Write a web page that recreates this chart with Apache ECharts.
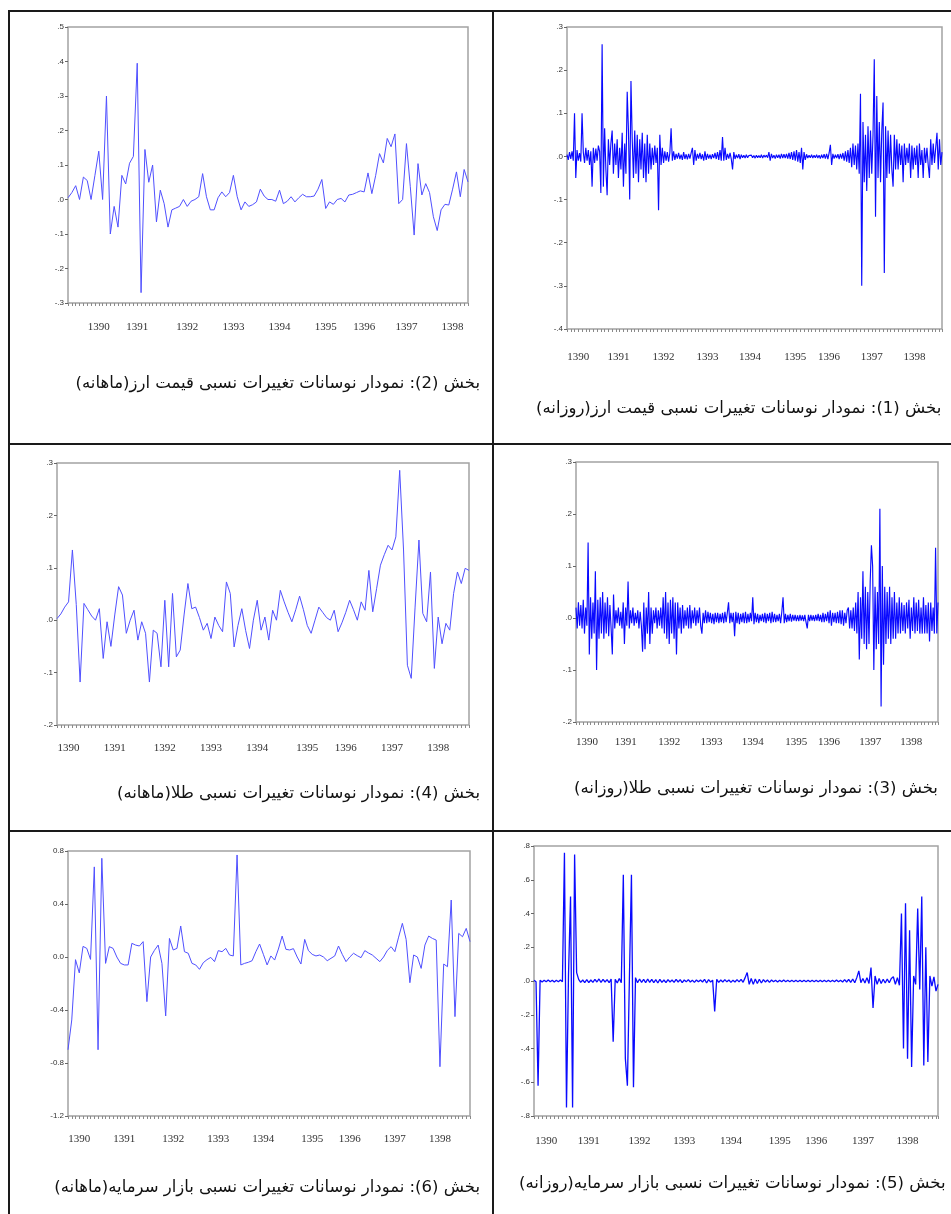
<!DOCTYPE html>
<html>
<head>
<meta charset="utf-8">
<script src="https://cdn.jsdelivr.net/npm/echarts@6/dist/echarts.min.js"></script>
<style>
html,body{margin:0;padding:0;background:#fff;overflow:hidden;width:951px;height:1214px;}
#wrap{position:absolute;left:0;top:0;width:975px;height:1214px;}
#chart{position:absolute;left:0;top:0;width:975px;height:1214px;}
.ln{position:absolute;background:#1a1a1a;z-index:5;}
.cap{position:absolute;white-space:nowrap;direction:rtl;font-family:"DejaVu Sans","Noto Sans",sans-serif;font-size:16.5px;color:#111;z-index:6;line-height:22px;}
</style>
</head>
<body>
<div id="wrap">
  <div id="chart"></div>
  <div class="ln" style="left:8px;top:10px;width:967px;height:2px;"></div>
  <div class="ln" style="left:8px;top:10px;width:2px;height:1204px;"></div>
  <div class="ln" style="left:492px;top:10px;width:2px;height:1204px;"></div>
  <div class="ln" style="left:8px;top:443px;width:967px;height:2px;"></div>
  <div class="ln" style="left:8px;top:830px;width:967px;height:2px;"></div>
  <div class="cap" id="cap2" style="left:0;width:480px;top:372px;text-align:right;"></div>
  <div class="cap" id="cap1" style="left:536px;top:397px;text-align:left;"></div>
  <div class="cap" id="cap4" style="left:0;width:480px;top:782px;text-align:right;"></div>
  <div class="cap" id="cap3" style="left:574px;top:777px;text-align:left;"></div>
  <div class="cap" id="cap6" style="left:0;width:480px;top:1176px;text-align:right;"></div>
  <div class="cap" id="cap5" style="left:519px;top:1172px;text-align:left;"></div>
</div>
<script>
// ---------- tick labels ----------
const years = ['1390','1391','1392','1393','1394','1395','1396','1397','1398'];
const yearIdxFxMonthly = [8,18,31,43,55,67,77,88,100];
const yearIdxMonthly = [3,15,28,40,52,65,75,87,99];
const yearIdxDaily300 = [9,41,77,112,146,182,209,243,277];
const yearIdxDaily200 = [6,27,52,74,97,121,139,162,184];

// ---------- captions ----------
const cap1 = 'بخش (1): نمودار نوسانات تغییرات نسبی قیمت ارز(روزانه)';
const cap2 = 'بخش (2): نمودار نوسانات تغییرات نسبی قیمت ارز(ماهانه)';
const cap3 = 'بخش (3): نمودار نوسانات تغییرات نسبی طلا(روزانه)';
const cap4 = 'بخش (4): نمودار نوسانات تغییرات نسبی طلا(ماهانه)';
const cap5 = 'بخش (5): نمودار نوسانات تغییرات نسبی بازار سرمایه(روزانه)';
const cap6 = 'بخش (6): نمودار نوسانات تغییرات نسبی بازار سرمایه(ماهانه)';

// ---------- series values ----------
// (2) exchange rate, monthly
const fxMonthly = [
 .005,.02,.04,0,.065,.055,0,.07,.14,0,
 .30,-.10,-.02,-.08,.07,.045,.105,.125,.395,-.27,
 .145,.05,.10,-.065,.027,-.012,-.08,-.03,-.025,-.02,
 0,-.02,-.005,0,.008,.075,.008,-.03,-.03,.005,
 .022,.008,.02,.07,.008,-.03,-.007,-.02,-.015,-.007,
 .03,.01,0,0,-.005,.027,-.012,-.005,.008,-.007,
 .005,.015,.008,.008,.01,.03,.058,-.026,-.007,-.014,
 0,.003,-.007,.013,.015,.02,.025,.022,.077,.017,
 .07,.133,.106,.177,.153,.19,-.012,0,.162,.037,
 -.103,.104,.013,.046,.02,-.05,-.09,-.03,-.014,-.016,
 .03,.08,.008,.087,.051
];
// (1) exchange rate, daily
const fxDaily = [
 .004,-.008,.01,-.006,.012,-.01,.10,-.05,.015,-.01,
 .008,-.012,.10,.01,-.015,.02,-.01,.015,-.02,.012,
 -.07,.02,-.015,.018,-.01,.025,.012,-.085,.26,-.07,
 .065,-.03,-.09,.04,-.02,.03,.06,-.04,.03,-.02,
 .04,-.05,.02,-.03,.055,-.07,.03,-.04,.15,.06,
 -.10,.175,.04,-.05,.06,-.04,.05,-.06,.04,-.03,
 .055,-.05,.03,-.06,.05,-.04,.03,-.03,.02,-.02,
 .025,-.015,.02,-.125,.05,-.02,.02,-.015,.012,-.01,
 .01,-.012,.008,.065,-.01,.012,-.008,.006,-.005,.008,
 -.006,.004,-.008,.01,-.006,.005,-.007,.006,-.005,.008,
 .02,-.02,.015,-.01,.006,-.005,.008,-.006,.005,-.01,
 .012,-.008,.006,-.005,.004,-.006,.005,-.004,.008,-.006,
 .01,-.008,.015,-.01,.045,-.01,.02,-.008,.006,-.005,
 .008,-.006,-.03,.01,-.006,.004,-.004,.005,-.006,.004,
 -.003,.003,-.004,.004,-.003,.002,-.002,.003,-.003,.002,
 -.004,.003,-.003,.002,-.003,.004,-.004,.003,-.002,.003,
 -.003,.01,-.01,.006,-.004,.003,-.005,.004,-.003,.004,
 -.005,.006,-.004,.005,-.004,.006,-.005,.008,-.006,.01,
 -.008,.012,-.01,.015,-.012,.01,-.015,.02,-.03,.01,
 -.008,.005,-.004,.003,-.003,.004,-.004,.003,-.003,.004,
 -.004,.003,-.005,.004,-.004,.005,-.005,.006,-.006,.008,
 .027,-.02,.006,-.005,.004,-.004,.005,-.006,.006,-.005,
 .008,-.01,.012,-.012,.015,-.015,.02,-.025,.03,-.02,
 .025,-.03,.03,-.04,.145,-.30,.08,-.06,.05,-.08,
 .07,-.05,.06,-.04,.05,.225,-.14,.14,-.05,.08,
 -.06,.06,.125,-.27,.07,-.05,.06,-.04,.05,-.03,
 -.07,.05,-.03,.04,-.03,.03,-.02,.025,-.06,.03,
 -.02,.02,-.015,.03,-.05,.025,-.03,.02,-.02,.025,
 -.05,.03,-.02,.015,-.05,.02,-.015,.02,-.02,-.05,
 .04,-.02,.03,-.015,.02,.055,-.03,.04,-.02,.01
];
// (4) gold, monthly
const goldMonthly = [
 .003,.012,.025,.035,.134,.03,-.118,.032,.02,.008,
 0,.022,-.073,-.003,-.05,.01,.064,.048,-.025,0,
 .019,-.038,-.003,-.025,-.118,-.019,-.025,-.089,.038,-.089,
 .051,-.07,-.057,.01,.07,.022,.025,.005,-.019,-.006,
 -.035,.006,-.01,-.022,.073,.051,-.051,-.01,.022,-.02,
 -.054,0,.038,-.019,.006,-.038,.019,0,.057,.035,
 .015,-.003,.02,.046,.02,-.01,-.025,0,.025,.015,
 .005,0,.019,-.022,-.005,.015,.038,.02,0,.035,
 .019,.095,.016,.06,.105,.125,.143,.134,.159,.286,
 .134,-.086,-.111,.025,.153,.013,-.003,.092,-.092,.006,
 -.045,-.006,-.019,.051,.092,.07,.099,.095
];
// (3) gold, daily
const goldDaily = [
 .02,-.02,.03,-.015,.025,-.02,.035,-.03,.02,-.015,
 .145,-.07,.04,-.04,.03,-.03,.09,-.10,.035,-.04,
 .04,-.03,.05,-.04,.03,-.03,.04,-.035,.025,-.02,
 -.07,.045,-.02,.015,-.01,.02,-.015,.012,-.02,.03,
 -.05,.02,-.015,.07,-.02,.015,-.01,.02,-.015,.01,
 -.01,.015,-.02,.012,-.015,-.065,.03,-.06,.02,-.03,
 .05,-.05,.02,-.03,.015,-.01,.02,-.02,.015,-.015,
 .02,-.02,.04,-.03,.05,-.04,.03,-.05,.035,-.03,
 .04,-.04,.03,-.07,.03,-.02,.02,-.03,.025,-.02,
 .015,-.015,.02,-.02,.025,-.02,.015,-.01,.02,-.015,
 .015,-.01,.02,-.015,-.03,.01,-.01,.015,-.01,.012,
 -.008,.01,-.01,.008,-.012,.01,-.008,.01,-.01,.008,
 -.008,.01,-.01,.012,-.008,.01,.03,-.01,.01,-.008,
 .01,-.035,.012,-.01,.01,-.012,.008,-.008,.01,-.01,
 .012,-.01,.008,-.008,.01,-.006,.04,-.012,.01,-.008,
 .008,-.01,.006,-.006,.008,-.008,.01,-.01,.008,-.006,
 .01,-.01,.012,-.008,.008,-.008,.006,-.006,.008,-.01,
 .012,.04,-.01,.008,-.008,.006,-.006,.008,-.007,.006,
 -.005,.006,-.006,.005,-.006,.006,-.005,.005,-.006,.006,
 -.008,-.02,.006,-.006,.006,-.005,.005,-.006,.006,-.005,
 .008,-.006,.006,-.008,.01,-.008,.008,-.006,.012,-.01,
 .015,-.015,.01,-.008,.01,-.01,.012,-.01,.015,-.012,
 .015,-.015,.01,-.01,.015,.02,-.02,.015,-.02,.02,
 -.025,.03,-.03,.05,-.08,.04,-.04,.09,-.05,.06,
 -.06,.05,-.05,.07,.14,.10,-.10,.06,-.06,.05,
 -.05,.21,-.17,.10,-.09,.06,-.05,.05,-.04,.06,
 -.05,.04,-.04,.05,-.04,.03,-.03,.04,-.03,.03,
 -.025,.025,-.03,.03,-.02,.035,-.04,.02,-.025,.04,
 -.03,.03,-.025,.035,-.03,.02,-.03,.04,-.03,.025,
 -.03,.03,-.045,.03,-.025,.02,-.03,.135,-.03,.03
];
// (6) stock market, monthly
const stockMonthly = [
 -.70,-.475,-.02,-.12,.08,.065,-.018,.68,-.70,.745,
 -.048,.078,.065,0,-.048,-.06,-.06,.103,.09,.083,
 .116,-.337,0,.05,.09,-.048,-.445,.14,.053,.065,
 .234,.04,.028,-.048,-.06,-.093,-.043,-.02,-.003,-.035,
 .048,.04,.065,.015,.008,.77,-.06,-.048,-.04,-.028,
 .04,.098,.02,-.06,.008,-.023,.06,.158,.058,.053,
 .063,0,-.053,.133,.048,.02,.008,.015,0,-.028,
 -.01,.008,.083,.02,-.035,0,.028,.01,-.005,.048,
 .03,.015,-.01,-.035,0,.05,.078,.04,.15,.254,
 .133,-.194,.015,0,-.086,.09,.158,.14,.128,-.828,
 -.053,-.073,.43,-.45,.178,.153,.216,.116
];
// (5) stock market, daily
const stockDaily = [
 .005,-.005,-.62,.005,-.006,.004,-.005,.006,-.004,.005,
 -.006,.004,-.004,.006,-.005,.76,-.75,.04,.50,-.75,
 .75,.05,.01,-.008,.006,-.01,.008,-.01,.006,-.008,
 .01,-.006,.012,-.008,.01,-.006,.008,-.01,.012,-.36,
 .01,-.012,.015,-.01,.63,-.46,-.62,.02,.63,-.63,
 .02,-.01,.012,-.008,.01,-.01,.012,-.008,.01,-.01,
 .008,-.012,.01,-.008,.006,-.01,.008,-.006,.006,-.008,
 .01,-.006,.008,-.01,.006,-.005,.008,-.006,.005,-.008,
 .006,-.005,.006,-.006,.01,-.012,.008,-.006,.005,-.18,
 .01,-.008,.006,-.006,.008,-.005,.006,-.008,.005,-.006,
 .008,-.005,.01,-.008,.02,.05,-.02,.015,-.02,.012,
 -.015,.01,-.012,.008,-.006,.006,-.008,.006,-.005,.005,
 -.006,.005,-.005,.006,-.004,.004,-.005,.004,-.004,.005,
 -.004,.004,-.005,.004,-.004,.005,-.005,.004,-.004,.005,
 -.004,.005,-.005,.004,-.004,.005,-.004,.004,-.005,.006,
 -.005,.004,-.006,.008,-.006,.01,-.008,.012,-.01,.02,
 .06,-.01,.015,-.012,.02,-.015,.08,-.16,.03,-.02,
 .015,-.015,.01,-.012,.012,-.01,.015,.025,-.02,.02,
 -.025,.40,-.40,.46,-.46,.30,-.51,.03,-.02,.43,
 -.05,.50,-.50,.20,-.48,.03,-.03,.025,-.06,-.02
];

document.getElementById('cap1').textContent = cap1;
document.getElementById('cap2').textContent = cap2;
document.getElementById('cap3').textContent = cap3;
document.getElementById('cap4').textContent = cap4;
document.getElementById('cap5').textContent = cap5;
document.getElementById('cap6').textContent = cap6;

const monthlyColor = '#5050ff';
const dailyColor = '#0a0aff';

function shortFmt(v){
  if (Math.abs(v) < 1e-9) return '.0';
  return v.toFixed(1).replace(/^(-?)0\./, '$1.');
}
function longFmt(v){
  if (Math.abs(v) < 1e-9) return '0.0';
  return v.toFixed(1);
}

const panels = [
  {data: fxMonthly, idx: yearIdxFxMonthly, min:-0.3, max:0.5, step:0.1, fmt:shortFmt,
   grid:{left:68, top:27, width:400, height:276}, color:monthlyColor, lw:1, tickInt:0, margin:19},
  {data: fxDaily, idx: yearIdxDaily300, min:-0.4, max:0.3, step:0.1, fmt:shortFmt,
   grid:{left:567, top:27, width:375, height:302}, color:dailyColor, lw:1.15, tickInt:2, margin:23},
  {data: goldMonthly, idx: yearIdxMonthly, min:-0.2, max:0.3, step:0.1, fmt:shortFmt,
   grid:{left:57, top:463, width:412, height:262}, color:monthlyColor, lw:1, tickInt:0, margin:18},
  {data: goldDaily, idx: yearIdxDaily300, min:-0.2, max:0.3, step:0.1, fmt:shortFmt,
   grid:{left:576, top:462, width:362, height:260}, color:dailyColor, lw:1.15, tickInt:2, margin:15},
  {data: stockMonthly, idx: yearIdxMonthly, min:-1.2, max:0.8, step:0.4, fmt:longFmt,
   grid:{left:68, top:851, width:402, height:265}, color:monthlyColor, lw:1, tickInt:0, margin:18},
  {data: stockDaily, idx: yearIdxDaily200, min:-0.8, max:0.8, step:0.2, fmt:shortFmt,
   grid:{left:534, top:846, width:404, height:270}, color:dailyColor, lw:1.3, tickInt:1, margin:20}
];

const option = {
  animation: false,
  backgroundColor: '#fff',
  grid: [], xAxis: [], yAxis: [], series: []
};

panels.forEach((p, k) => {
  option.grid.push(Object.assign({
    show: true, borderColor: '#a3a3a3', borderWidth: 1.5, backgroundColor: '#fff'
  }, p.grid));
  const cats = p.data.map((_, i) => String(i));
  const idx = p.idx;
  option.xAxis.push({
    type: 'category', gridIndex: k, data: cats, boundaryGap: false,
    axisLine: {show: false, onZero: false},
    axisTick: {show: true, interval: p.tickInt, length: 3, lineStyle: {color: '#8a8a8a', width: 1}},
    axisLabel: {
      interval: 0, margin: p.margin, fontFamily: 'Liberation Serif', fontSize: 11, color: '#333',
      formatter: function(v){ const j = idx.indexOf(Number(v)); return j >= 0 ? years[j] : ''; }
    },
    splitLine: {show: false}
  });
  option.yAxis.push({
    type: 'value', gridIndex: k, min: p.min, max: p.max, interval: p.step,
    axisLine: {show: false},
    axisTick: {show: true, length: 3, lineStyle: {color: '#666'}},
    axisLabel: {fontSize: 8, fontFamily: 'Liberation Sans', color: '#333', margin: 4, formatter: p.fmt},
    splitLine: {show: false}
  });
  option.series.push({
    type: 'line', xAxisIndex: k, yAxisIndex: k, data: p.data,
    showSymbol: false, symbol: 'none',
    lineStyle: {color: p.color, width: p.lw},
    silent: true
  });
});

const chart = echarts.init(document.getElementById('chart'), null, {renderer: 'canvas'});
chart.setOption(option);
</script>
</body>
</html>
